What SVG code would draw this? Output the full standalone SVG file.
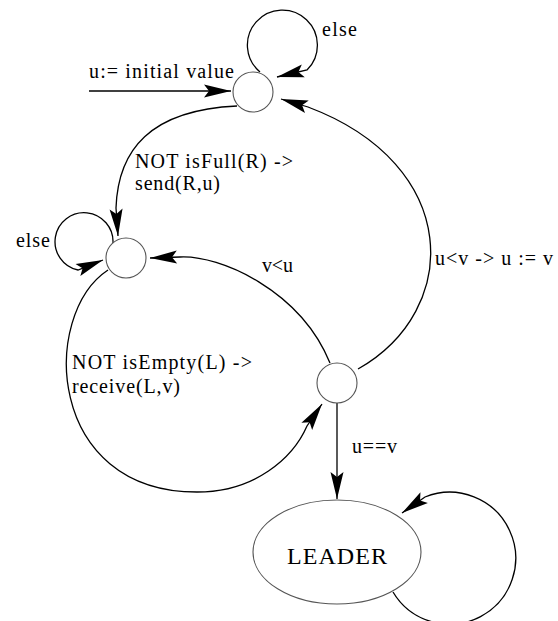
<svg xmlns="http://www.w3.org/2000/svg" width="558" height="621" viewBox="0 0 558 621">
<defs>
<style>
.node{fill:#fff;stroke:#555;stroke-width:1.1}
.edge{fill:none;stroke:#000;stroke-width:1.3;marker-end:url(#arr)}
.lbl{font-family:"Liberation Serif","Times New Roman",serif;font-size:20px;fill:#000}
.big{font-size:24px}
</style>
<marker id="arr" markerUnits="userSpaceOnUse" viewBox="-28 -8 30 16" refX="0" refY="0" markerWidth="30" markerHeight="16" orient="auto">
<path d="M0,0 L-27,-6.5 L-22,0 L-27,6.5 Z" fill="#000"/>
</marker>
</defs>
<rect width="558" height="621" fill="#fff"/>
<g id="connectors">
<path class="edge" d="M 89 91 L 231 91"/>
<path class="edge" d="M 260 72 A 35 35 0 1 1 307 70 L 277 77"/>
<path class="edge" d="M 237 106 C 150 110, 118 150, 116 208 L 118 236"/>
<path class="edge" d="M 113 243 A 29 29 0 1 0 78 270 L 103 260"/>
<path class="edge" d="M 330 363 C 300 290, 220 255, 180 257 L 150 258"/>
<path class="edge" d="M 108 270 C 40 315, 46 492, 197 492 C 255 492, 293 458, 307 426 L 322 404"/>
<path class="edge" d="M 358 369 C 462 310, 462 165, 308 107 L 281 99"/>
<path class="edge" d="M 337 403 L 337 499"/>
<path class="edge" d="M 393 592 A 66 66 0 1 0 425 497 L 402 513"/>
</g>
<g id="labels">
<text class="lbl" x="322" y="36" textLength="35" lengthAdjust="spacing">else</text>
<text class="lbl" x="89" y="78" textLength="145" lengthAdjust="spacing">u:= initial value</text>
<text class="lbl" x="135" y="168" textLength="158" lengthAdjust="spacing">NOT isFull(R) -&gt;</text>
<text class="lbl" x="135" y="190" textLength="85" lengthAdjust="spacing">send(R,u)</text>
<text class="lbl" x="16" y="247" textLength="34" lengthAdjust="spacing">else</text>
<text class="lbl" x="262" y="272" textLength="31" lengthAdjust="spacing">v&lt;u</text>
<text class="lbl" x="435" y="265" textLength="118" lengthAdjust="spacing">u&lt;v -&gt; u := v</text>
<text class="lbl" x="72" y="369" textLength="180" lengthAdjust="spacing">NOT isEmpty(L) -&gt;</text>
<text class="lbl" x="72" y="393" textLength="108" lengthAdjust="spacing">receive(L,v)</text>
<text class="lbl" x="352" y="453" textLength="45" lengthAdjust="spacing">u==v</text>
</g>
<g id="n_init"><circle class="node" cx="253" cy="92" r="20"/></g>
<g id="n_send"><circle class="node" cx="126" cy="258" r="20"/></g>
<g id="n_recv"><circle class="node" cx="337" cy="383" r="20"/></g>
<g id="n_leader"><ellipse class="node" cx="337" cy="552" rx="84" ry="52"/><text class="lbl big" x="287" y="564" textLength="100" lengthAdjust="spacing">LEADER</text></g>
</svg>
